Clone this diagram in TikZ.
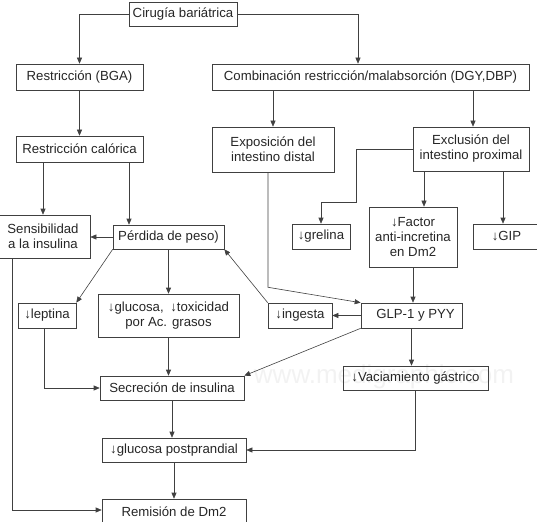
\documentclass[tikz,border=0pt]{standalone}
\usepackage{fontspec}
\setmainfont{Liberation Sans}
\usetikzlibrary{arrows.meta}

\begin{document}
\begin{tikzpicture}[x=1pt,y=-1pt,>={Triangle[length=6pt,width=5pt]},line width=0.6pt,
  box/.style={draw=black!75,text=black!85,inner sep=0pt,align=center,font=\fontsize{13.2}{15}\selectfont},
  link/.style={->,draw=black!75}]
  \useasboundingbox (0,0) rectangle (537,521);
  % watermark
  \node[text=gray!10,font=\fontsize{26}{26}\selectfont] (marca) at (384,377) {www.medigraphic.com};

  \node[box,minimum width=108pt,minimum height=24pt] (cirugia) at (183,14) {Cirugía bariátrica};
  \node[box,minimum width=127pt,minimum height=26pt] (bga) at (79.5,77) {Restricción (BGA)};
  \node[box,minimum width=317pt,minimum height=26pt] (comb) at (370.5,77) {Combinación restricción/malabsorción (DGY,DBP)};
  \node[box,minimum width=127pt,minimum height=26pt] (calorica) at (79.5,149) {Restricción calórica};
  \node[box,minimum width=122pt,minimum height=45pt] (expo) at (273,149.5) {Exposición del\\intestino distal};
  \node[box,minimum width=116pt,minimum height=44pt] (exclu) at (471,149) {Exclusión del\\intestino proximal};

  \node[box,minimum width=94pt,minimum height=43pt] (sensib) at (43,236.5) {Sensibilidad\\a la insulina};
  \node[box,minimum width=111pt,minimum height=24pt] (perdida) at (168.5,237) {Pérdida de peso)};
  \node[box,minimum width=58pt,minimum height=25pt] (grelina) at (321,236.5) {↓grelina};
  \node[box,minimum width=88pt,minimum height=60pt] (factor) at (413,237) {↓Factor\\anti-incretina\\en Dm2};
  \node[box,minimum width=67pt,minimum height=25pt] (gip) at (506.5,236.5) {↓GIP};

  \node[box,minimum width=58pt,minimum height=25pt] (leptina) at (47,315.5) {↓leptina};
  \node[box,minimum width=141pt,minimum height=43pt] (glucosa) at (168.5,315.5) {↓glucosa,\enspace↓toxicidad\\por Ac. grasos};
  \node[box,minimum width=64pt,minimum height=25pt] (ingesta) at (300,315.5) {↓ingesta};
  \node[box,minimum width=101pt,minimum height=25pt] (glp) at (411.5,315.5) {\hspace{8pt}GLP-1 y PYY};

  \node[box,minimum width=144pt,minimum height=24pt] (secrecion) at (172,388) {Secreción de insulina};
  \node[box,minimum width=145pt,minimum height=24pt] (vaciam) at (415.5,378) {↓Vaciamiento gástrico};
  \node[box,minimum width=144pt,minimum height=24pt] (postp) at (174,450) {↓glucosa postprandial};
  \node[box,minimum width=144pt,minimum height=25pt] (remision) at (174,511.5) {Remisión de Dm2};

  \coordinate (g1) at (356,202);

  \draw[link] (cirugia.west) -| (bga.north);
  \draw[link] (cirugia.east) -| ([xshift=-12.5pt]comb.north);
  \draw[link] (bga.south) -- (calorica.north);
  \draw[link] (comb.south -| expo.north) -- (expo.north);
  \draw[link] ([xshift=2pt]comb.south -| exclu.north) -- ([xshift=2pt]exclu.north);
  \draw[link] (calorica.south -| sensib.north) -- (sensib.north);
  \draw[link] ([xshift=49.5pt]calorica.south) -- ([xshift=49.5pt]calorica.south |- perdida.north);
  \draw[link] (perdida.west) -- (perdida.west -| sensib.east);
  \draw[link] (exclu.west) -| (g1) -| (grelina.north);
  \draw[link] ([xshift=-47pt]exclu.south) -- ([xshift=-47pt]exclu.south |- factor.north);
  \draw[link] ([xshift=32pt]exclu.south) -- ([xshift=32pt]exclu.south |- gip.north);

  \draw[link] (perdida.south west) -- (leptina.north east);
  \draw[link] (perdida.south) -- (glucosa.north);
  \draw[link] (ingesta.north west) -- (perdida.south east);
  \draw[link] (factor.south) -- (factor.south |- glp.north);
  \draw[link] (glp.west) -- (ingesta.east);
  \draw[link] ([xshift=-5pt]expo.south) -- ++(0,115) -- (glp.north west);

  \draw[link] (glp.south west) -- (secrecion.north east);
  \draw[link] (glp.south) -- (glp.south |- vaciam.north);
  \draw[link] ([xshift=-3pt]leptina.south) |- (secrecion.west);
  \draw[link] (glucosa.south) -- (glucosa.south |- secrecion.north);
  \draw[link] (secrecion.south) -- (secrecion.south |- postp.north);
  \draw[link] (vaciam.south) |- (postp.east);
  \draw[link] (postp.south) -- (remision.north);
  \draw[link] ([xshift=-31pt]sensib.south) |- ([yshift=1.5pt]remision.west);
\end{tikzpicture}
\end{document}
